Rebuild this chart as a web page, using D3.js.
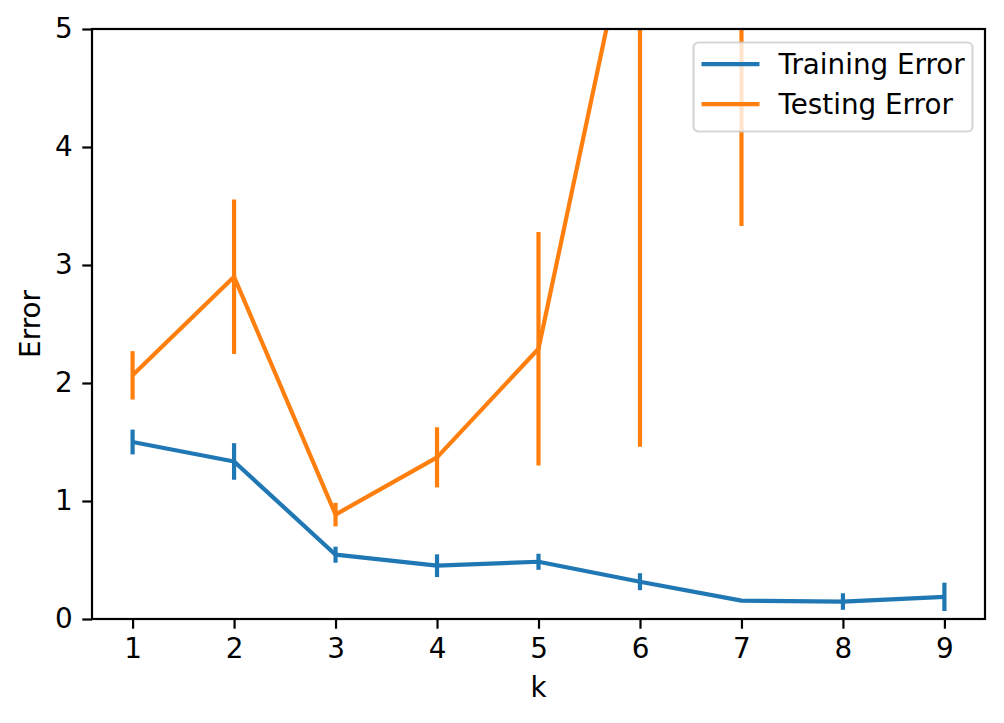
<!DOCTYPE html>
<html>
<head>
<meta charset="utf-8">
<script src="https://cdn.jsdelivr.net/npm/d3@7"></script>
<style>
  body { margin: 0; background: #fff; }
  svg { font-family: "DejaVu Sans", sans-serif; }
</style>
</head>
<body>
<svg id="vis" width="1004" height="723"></svg>
<script>
// data
const kValues = [1, 2, 3, 4, 5, 6, 7, 8, 9]
const trainMean = [1.50, 1.335, 0.545, 0.452, 0.485, 0.316, 0.156, 0.148, 0.188]
const trainErr = [0.105, 0.155, 0.068, 0.096, 0.068, 0.072, 0.004, 0.07, 0.12]
const testMean = [2.065, 2.90, 0.885, 1.37, 2.29, 6.34, 7.0, 9.5, 8.8]
const testErr = [0.205, 0.655, 0.10, 0.255, 0.99, 4.88, 3.67, 3.0, 2.5]
const yTicks = [0, 1, 2, 3, 4, 5]
const seriesNames = ["Training Error", "Testing Error"]
const seriesColors = ["#1f77b4", "#ff7f0e"]

const fontSize = "27.8px"
const margin = {top: 29, right: 19, bottom: 104, left: 92}
const svg = d3.select("#vis")
const width = 1004 - margin.left - margin.right
const height = 723 - margin.top - margin.bottom

const chart = svg.append("g")
  .attr("transform", `translate(${margin.left},${margin.top})`)

// scales, matplotlib style 5% x margin
const xScale = d3.scaleLinear().domain([0.6, 9.4]).range([0, width])
const yScale = d3.scaleLinear().domain([0, 5]).range([height, 0])

chart.append("clipPath").attr("id", "clip")
  .append("rect").attr("width", width).attr("height", height)

const plot = chart.append("g").attr("clip-path", "url(#clip)")

const line = d3.line()
  .x(d => xScale(d.k))
  .y(d => yScale(d.v))

function drawSeries(means, errs, color) {
  const rows = kValues.map((k, i) => ({k: k, v: means[i], e: errs[i]}))
  plot.append("path")
    .datum(rows)
    .attr("fill", "none")
    .attr("stroke", color)
    .attr("stroke-width", 4.2)
    .attr("stroke-linejoin", "round")
    .attr("d", line)
  plot.selectAll(null)
    .data(rows)
    .enter().append("line")
    .attr("x1", d => xScale(d.k))
    .attr("x2", d => xScale(d.k))
    .attr("y1", d => yScale(d.v - d.e))
    .attr("y2", d => yScale(d.v + d.e))
    .attr("stroke", color)
    .attr("stroke-width", 4.2)
}
drawSeries(trainMean, trainErr, seriesColors[0])
drawSeries(testMean, testErr, seriesColors[1])

// axes
const xAxis = chart.append("g")
  .attr("transform", `translate(0,${height})`)
  .call(d3.axisBottom(xScale).tickValues(kValues).tickSize(9.7).tickPadding(9.7).tickFormat(d3.format("d")))
const yAxis = chart.append("g")
  .call(d3.axisLeft(yScale).tickValues(yTicks).tickSize(9.7).tickPadding(9.7).tickFormat(d3.format("d")))

for (const ax of [xAxis, yAxis]) {
  ax.select(".domain").remove()
  ax.selectAll(".tick line").attr("stroke", "#000").attr("stroke-width", 2.2)
  ax.selectAll(".tick text").attr("fill", "#000").style("font-size", fontSize)
    .style("font-family", "DejaVu Sans, sans-serif")
}

chart.append("rect")
  .attr("width", width).attr("height", height)
  .attr("fill", "none").attr("stroke", "#000").attr("stroke-width", 2.2)

// axis labels
svg.append("text")
  .attr("x", margin.left + width / 2).attr("y", 697)
  .attr("text-anchor", "middle").style("font-size", fontSize)
  .text("k")
svg.append("text")
  .attr("transform", `translate(40,${margin.top + height / 2}) rotate(-90)`)
  .attr("text-anchor", "middle").style("font-size", fontSize)
  .text("Error")

// legend
const legend = svg.append("g").attr("transform", "translate(693.5,42.5)")
legend.append("rect")
  .attr("width", 279).attr("height", 89).attr("rx", 5)
  .attr("fill", "#fff").attr("fill-opacity", 0.8)
  .attr("stroke", "#ccc").attr("stroke-opacity", 0.8).attr("stroke-width", 2.2)
seriesNames.forEach((name, i) => {
  const y = 21.7 + i * 40
  legend.append("line")
    .attr("x1", 8).attr("x2", 66).attr("y1", y).attr("y2", y)
    .attr("stroke", seriesColors[i]).attr("stroke-width", 4.2)
  legend.append("text")
    .attr("x", 85).attr("y", y + 10)
    .style("font-size", fontSize)
    .text(name)
})
</script>
</body>
</html>
